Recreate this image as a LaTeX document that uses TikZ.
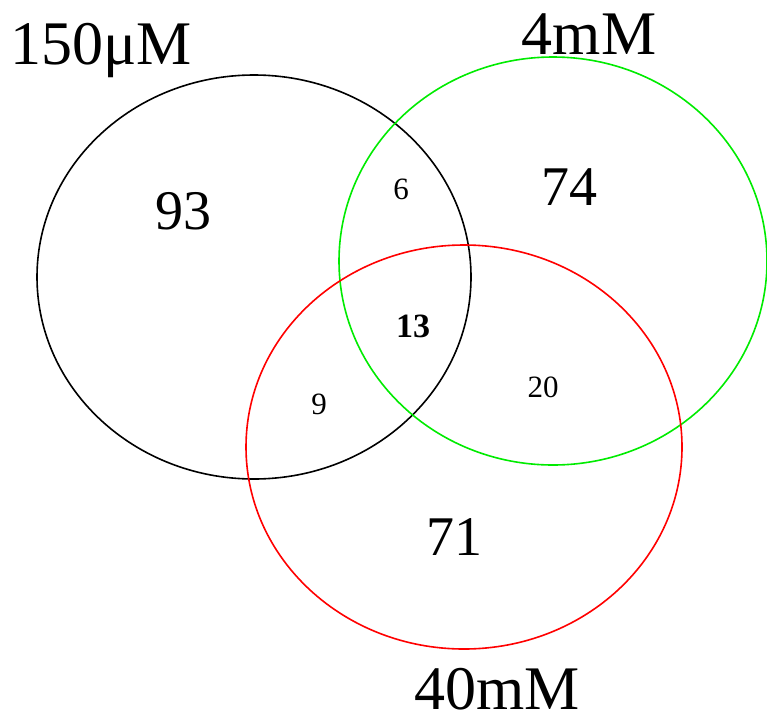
\documentclass[tikz,border=0pt]{standalone}
\usepackage{fontspec}
\setmainfont{Liberation Serif}
\begin{document}
\begin{tikzpicture}[x=1pt,y=-1pt,
  setline/.style={line width=1.6pt},
  biglab/.style={inner sep=0pt,anchor=base,font=\fontsize{62}{70}\selectfont},
  bignum/.style={inner sep=0pt,font=\fontsize{56}{60}\selectfont},
  smallnum/.style={inner sep=0pt,font=\fontsize{31}{34}\selectfont}]
\useasboundingbox (0,0) rectangle (767,723);
\draw[setline,draw={rgb,255:red,0;green,0;blue,0}] (254,277) ellipse [x radius=217, y radius=202];
\draw[setline,draw={rgb,255:red,0;green,235;blue,0}] (553,261) ellipse [x radius=214, y radius=204];
\draw[setline,draw={rgb,255:red,255;green,0;blue,0}] (464,447) ellipse [x radius=218, y radius=202];
\node[biglab] (l1) at (101,64) {150μM};
\node[biglab] (l2) at (589,54) {4mM};
\node[biglab] (l3) at (497,709) {40mM};
\node[bignum] (n93) at (183,211) {93};
\node[bignum] (n74) at (569,187) {74};
\node[bignum] (n71) at (454,537) {71};
\node[smallnum] (n6) at (401,189) {6};
\node[smallnum,font=\fontsize{34}{38}\selectfont\bfseries] (n13) at (413,326) {13};
\node[smallnum] (n9) at (319,404) {9};
\node[smallnum] (n20) at (543,387) {20};
\end{tikzpicture}
\end{document}
